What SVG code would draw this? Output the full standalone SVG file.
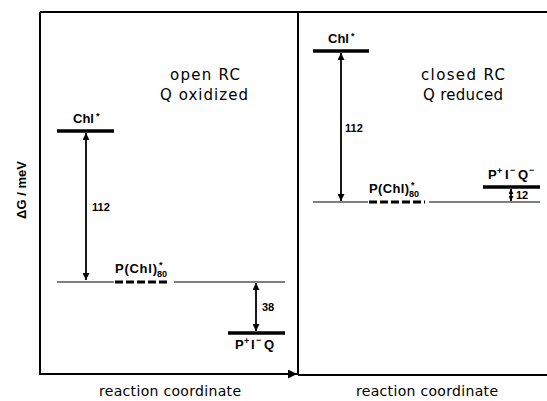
<svg xmlns="http://www.w3.org/2000/svg" width="547" height="401" viewBox="0 0 547 401">
<defs>
<marker id="ah" viewBox="0 0 10 10" refX="10" refY="5" markerWidth="7" markerHeight="7" markerUnits="userSpaceOnUse" orient="auto-start-reverse">
<path d="M0,0 L10,5 L0,10 z" fill="#000"/>
</marker>
<marker id="ahs" viewBox="0 0 10 10" refX="10" refY="5" markerWidth="5" markerHeight="5" markerUnits="userSpaceOnUse" orient="auto-start-reverse">
<path d="M0,0 L10,5 L0,10 z" fill="#000"/>
</marker>
<marker id="axh" viewBox="0 0 10 10" refX="10" refY="5" markerWidth="9" markerHeight="9" markerUnits="userSpaceOnUse" orient="auto">
<path d="M0,0 L10,5 L0,10 z" fill="#000"/>
</marker>
</defs>
<style>
.frame{stroke:#000;stroke-width:2;fill:none}
.level{stroke:#000;stroke-width:3.5;fill:none}
.thin{stroke:#000;stroke-width:1;fill:none}
.dash{stroke:#000;stroke-width:3;stroke-dasharray:8,3;fill:none}
.arr{stroke:#000;stroke-width:1.8;fill:none}
.lbl{font-family:"Liberation Sans",Arial,sans-serif;font-weight:bold;font-size:13px;fill:#000}
.num{font-family:"Liberation Sans",Arial,sans-serif;font-weight:bold;font-size:11px;fill:#000}
.sm{font-family:"Liberation Sans",Arial,sans-serif;font-weight:bold;font-size:9px;fill:#000}
.big{font-family:"DejaVu Sans","Liberation Sans",sans-serif;font-size:15px;fill:#000}
.ax{font-family:"DejaVu Sans","Liberation Sans",sans-serif;font-size:14px;fill:#000}
</style>
<rect width="547" height="401" fill="#fff"/>
<g id="axes">
<line class="frame" x1="40" y1="12" x2="547" y2="12"/>
<line class="frame" x1="40" y1="12" x2="40" y2="375"/>
<line class="frame" x1="298" y1="12" x2="298" y2="375"/>
<line class="frame" x1="40" y1="374" x2="297" y2="374" marker-end="url(#axh)"/>
<line class="frame" x1="298" y1="375" x2="547" y2="375"/>
<text transform="translate(26,190) rotate(-90)" text-anchor="middle" font-weight="bold" font-family="Liberation Sans, Arial, sans-serif" font-size="13">ΔG / meV</text>
<text class="ax" x="170" y="396" text-anchor="middle" textLength="142" lengthAdjust="spacing">reaction coordinate</text>
<text class="ax" x="427" y="396" text-anchor="middle" textLength="142" lengthAdjust="spacing">reaction coordinate</text>
</g>
<g id="left-title">
<text class="big" x="205" y="80" text-anchor="middle" textLength="70" lengthAdjust="spacing">open RC</text>
<text class="big" x="204" y="100" text-anchor="middle" textLength="88" lengthAdjust="spacing">Q oxidized</text>
</g>
<g id="left-chl">
<line class="level" x1="57" y1="131" x2="114" y2="131"/>
<text class="lbl" x="73" y="123">Chl</text>
<text class="sm" x="96" y="119">*</text>
</g>
<g id="left-pchl">
<line class="thin" x1="57" y1="282" x2="114" y2="282"/>
<line class="dash" x1="115" y1="282" x2="170" y2="282"/>
<line class="thin" x1="174" y1="282" x2="285" y2="282"/>
<text class="lbl" x="115" y="273" textLength="42" lengthAdjust="spacing">P(Chl)</text>
<text class="sm" x="159" y="268">*</text>
<text class="sm" x="157" y="277">80</text>
</g>
<g id="left-piq">
<line class="level" x1="228" y1="333" x2="285" y2="333"/>
<text class="lbl" x="235" y="349">P</text>
<text class="sm" x="244" y="344">+</text>
<text class="lbl" x="251" y="349">I</text>
<text class="sm" x="256" y="343">−</text>
<text class="lbl" x="264" y="349">Q</text>
</g>
<g id="right-title">
<text class="big" x="463" y="80" text-anchor="middle" textLength="84" lengthAdjust="spacing">closed RC</text>
<text class="big" x="463" y="100" text-anchor="middle" textLength="80" lengthAdjust="spacing">Q reduced</text>
</g>
<g id="right-chl">
<line class="level" x1="313" y1="51" x2="369" y2="51"/>
<text class="lbl" x="328" y="43">Chl</text>
<text class="sm" x="351" y="39">*</text>
</g>
<g id="right-pchl">
<line class="thin" x1="313" y1="202" x2="368" y2="202"/>
<line class="dash" x1="369" y1="202" x2="425" y2="202"/>
<line class="thin" x1="429" y1="202" x2="540" y2="202"/>
<text class="lbl" x="369" y="193" textLength="40" lengthAdjust="spacing">P(Chl)</text>
<text class="sm" x="411" y="188">*</text>
<text class="sm" x="409" y="197">80</text>
</g>
<g id="right-piqq">
<line class="level" x1="483" y1="187" x2="540" y2="187"/>
<text class="lbl" x="488" y="179">P</text>
<text class="sm" x="497" y="174">+</text>
<text class="lbl" x="505" y="179">I</text>
<text class="sm" x="510" y="173">−</text>
<text class="lbl" x="518" y="179">Q</text>
<text class="sm" x="529" y="173">−</text>
</g>
<g id="connectors">
<line class="arr" x1="86" y1="133" x2="86" y2="280" marker-start="url(#ah)" marker-end="url(#ah)"/>
<line class="arr" x1="256" y1="283" x2="256" y2="331" marker-start="url(#ah)" marker-end="url(#ah)"/>
<line class="arr" x1="341" y1="53" x2="341" y2="201" marker-start="url(#ah)" marker-end="url(#ah)"/>
<line class="arr" x1="511" y1="189" x2="511" y2="201" stroke-width="1.2" marker-start="url(#ahs)" marker-end="url(#ahs)"/>
<text class="num" x="92" y="211">112</text>
<text class="num" x="262" y="311">38</text>
<text class="num" x="345" y="132">112</text>
<text class="num" x="516" y="199">12</text>
</g>
</svg>
